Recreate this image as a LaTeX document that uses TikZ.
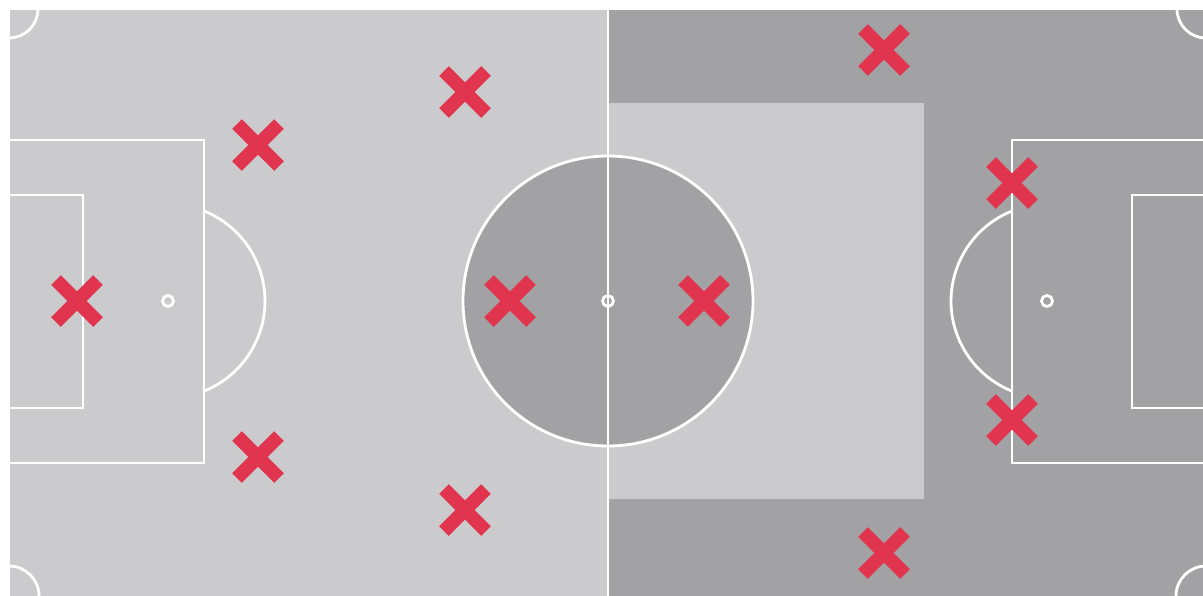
\documentclass[tikz,border=0pt]{standalone}
\definecolor{pitchlight}{HTML}{CBCBCD}
\definecolor{pitchdark}{HTML}{A2A2A4}
\definecolor{markred}{HTML}{E0344F}
\tikzset{
  pitchline/.style={draw=white, line width=2.8pt},
  player/.pic={
    \draw[markred, line width=13.5pt, line cap=butt] (-21,-21) -- (21,21);
    \draw[markred, line width=13.5pt, line cap=butt] (-21,21) -- (21,-21);
  }
}
\begin{document}
\begin{tikzpicture}[x=1pt, y=-1pt]
\useasboundingbox (0,0) rectangle (1203,595);
\fill[white] (0,0) rectangle (1203,595);
\begin{scope}
\clip (0,0) rectangle (1203,595);
% halves
\fill[pitchlight] (9,9) rectangle (608,598);
\fill[pitchdark] (608,9) rectangle (1206,598);
\fill[pitchlight] (608,103) rectangle (924,499);
% centre circle
\fill[pitchdark] (608,301) circle[radius=145];
% lines
\draw[pitchline] (9,598) -- (9,9) -- (1206,9) -- (1206,598);
\draw[pitchline] (608,9) -- (608,598);
\draw[pitchline] (608,301) circle[radius=145];
\draw[pitchline] (608,301) circle[radius=5.5];
% left penalty area
\draw[pitchline] (9,140) -- (204,140) -- (204,463) -- (9,463);
\draw[pitchline] (9,195) -- (83,195) -- (83,408) -- (9,408);
\draw[pitchline] (168,301) circle[radius=5.5];
\draw[pitchline] (204,211) arc[start angle=-68.2, end angle=68.2, radius=97];
% right penalty area
\draw[pitchline] (1206,140) -- (1012,140) -- (1012,463) -- (1206,463);
\draw[pitchline] (1206,195) -- (1132,195) -- (1132,408) -- (1206,408);
\draw[pitchline] (1047,301) circle[radius=5.5];
\draw[pitchline] (1012,211) arc[start angle=248.2, end angle=111.8, radius=97];
% corner arcs
\draw[pitchline] (38,9) arc[start angle=0, end angle=90, radius=29];
\draw[pitchline] (9,566) arc[start angle=-90, end angle=0, radius=30];
\draw[pitchline] (1177,9) arc[start angle=180, end angle=90, radius=29];
\draw[pitchline] (1206,566) arc[start angle=270, end angle=180, radius=30];
\end{scope}
% players
\pic at (465,92) {player};
\pic at (258,145) {player};
\pic at (77,301) {player};
\pic at (258,457) {player};
\pic at (465,510) {player};
\pic at (510,301) {player};
\pic at (704,301) {player};
\pic at (884,50) {player};
\pic at (1012,183) {player};
\pic at (1012,420) {player};
\pic at (884,553) {player};
\end{tikzpicture}
\end{document}
